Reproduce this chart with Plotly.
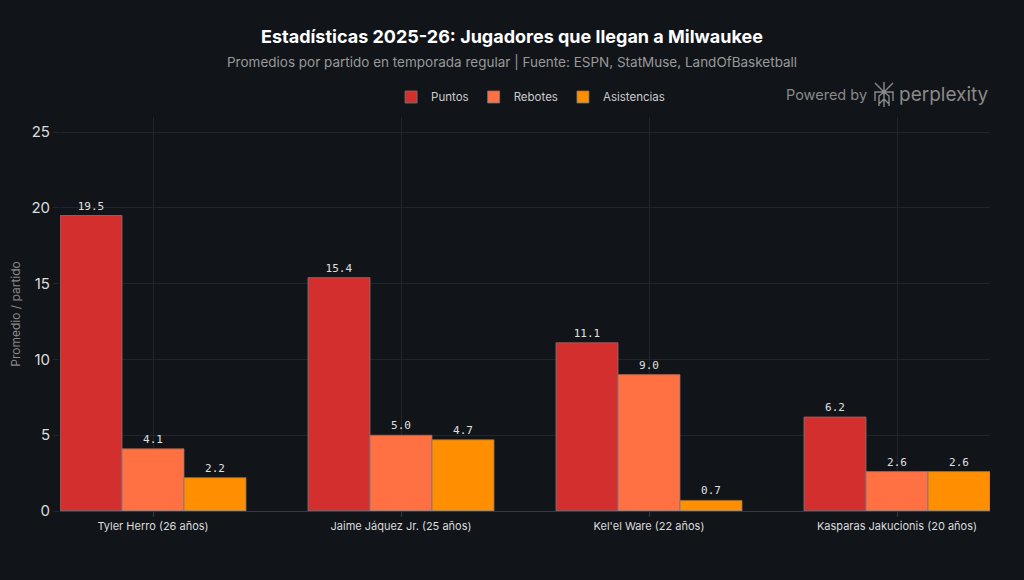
import plotly.graph_objects as go

players = ["Tyler Herro (26 años)", "Jaime Jáquez Jr. (25 años)", "Kel'el Ware (22 años)", "Kasparas Jakucionis (20 años)"]
puntos = [19.5, 15.4, 11.1, 6.2]
rebotes = [4.1, 5.0, 9.0, 2.6]
asistencias = [2.2, 4.7, 0.7, 2.6]

series = [("Puntos", puntos, "#D32F2F"), ("Rebotes", rebotes, "#FF7043"), ("Asistencias", asistencias, "#FF8F00")]

fig = go.Figure()
for name, vals, col in series:
    fig.add_trace(go.Bar(
        x=players, y=vals, name=name,
        marker=dict(color=col, line=dict(color="rgba(120,120,120,0.8)", width=1)),
        text=[f"{v:.1f}" for v in vals], textposition="outside",
        textfont=dict(family="DejaVu Sans Mono", size=11, color="#e0e0e0"),
        cliponaxis=False,
    ))

fig.update_layout(
    width=1024, height=580,
    paper_bgcolor="#111418", plot_bgcolor="#111418",
    font=dict(family="Inter", color="#cccccc"),
    barmode="group", bargap=0.25, bargroupgap=0,
    margin=dict(l=60, r=34, t=117, b=69, autoexpand=False),
    title=dict(
        text="<b>Estadísticas 2025-26: Jugadores que llegan a Milwaukee</b>",
        x=0.5, xanchor="center", y=1 - 37 / 580, yanchor="middle",
        font=dict(size=18, color="#ffffff"),
    ),
    legend=dict(orientation="h", x=0.506, xanchor="center", y=1.0508, yanchor="middle",
                font=dict(size=11.5, color="#cccccc"), bgcolor="rgba(0,0,0,0)"),
    xaxis=dict(range=[-0.375, 3.375], showgrid=True, gridcolor="#1f2630", ticks="outside",
               tickcolor="#333a44", ticklen=5, linecolor="#333a44", showline=True,
               tickfont=dict(size=11, color="#dddddd"), automargin=False),
    yaxis=dict(range=[0, 26], dtick=5, gridcolor="#1f2630", zeroline=False,
               ticks="outside", tickcolor="#1f2630", ticklen=6, automargin=False,
               tickfont=dict(size=15, color="#dddddd"),
               title=dict(text="Promedio / partido", font=dict(size=12, color="#888888"), standoff=8)),
)

fig.add_annotation(text="Promedios por partido en temporada regular | Fuente: ESPN, StatMuse, LandOfBasketball",
                   xref="paper", yref="paper", x=(512 - 60) / 930, y=(511 - 62) / 394,
                   xanchor="center", yanchor="middle", showarrow=False,
                   font=dict(size=13.5, color="#999999"))

fig.add_annotation(text="Powered by", xref="paper", yref="paper",
                   x=1 - (990 - 869) / 930, y=(511 - 95) / 394, xanchor="right", yanchor="middle",
                   showarrow=False, font=dict(size=14.5, color="#8a8a8a"))
fig.add_annotation(text="perplexity", xref="paper", yref="paper",
                   x=1 - (990 - 897) / 930, y=(511 - 94) / 394, xanchor="left", yanchor="middle",
                   showarrow=False, font=dict(size=19, color="#8a8a8a"))

# perplexity icon (pixel offsets from plot top-right corner)
segs = [
    [(884, 82), (884, 107)],
    [(875, 83), (884, 92), (893, 83)],
    [(875, 101), (875, 92), (893, 92), (893, 101)],
    [(879, 106), (879, 96), (884, 92)],
    [(889, 106), (889, 96), (884, 92)],
    [(879, 104), (884, 99), (889, 104)],
]
path = ""
for s in segs:
    pts = [(px - 990, 117 - py) for px, py in s]
    path += "M" + " L".join(f"{x},{y}" for x, y in pts) + " "
fig.add_shape(type="path", path=path.strip(), xref="paper", yref="paper",
              xsizemode="pixel", ysizemode="pixel", xanchor=1, yanchor=1,
              line=dict(color="#8a8a8a", width=1.4))

fig.write_html("out.html")
